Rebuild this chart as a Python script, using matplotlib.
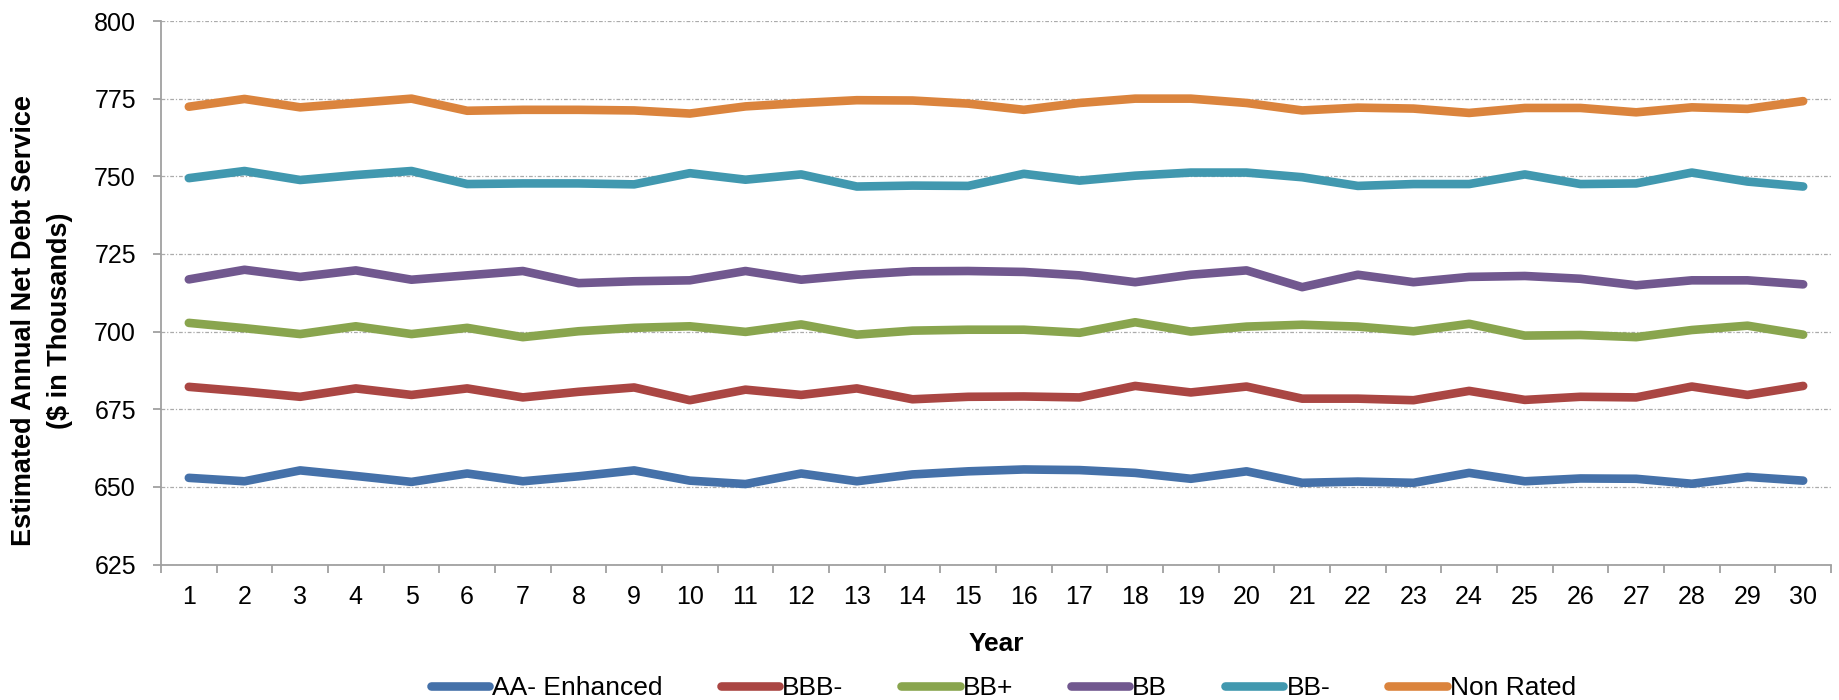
import matplotlib
matplotlib.use("Agg")
import matplotlib.pyplot as plt
from matplotlib.ticker import FixedLocator, NullFormatter

plt.rcParams['font.family'] = ['Liberation Sans', 'DejaVu Sans']

years = list(range(1, 31))
series_names = ["AA- Enhanced", "BBB-", "BB+", "BB", "BB-", "Non Rated"]
colors = ["#4571A9", "#AA4643", "#89A54E", "#71588F", "#4198AF", "#DB843D"]

aa_enhanced = [652.9, 651.8, 655.3, 653.5, 651.6, 654.3, 651.8, 653.4, 655.3, 652.0,
               650.9, 654.3, 651.8, 654.0, 655.0, 655.6, 655.4, 654.5, 652.6, 655.0,
               651.3, 651.7, 651.3, 654.5, 651.8, 652.7, 652.6, 651.0, 653.2, 652.0]
bbb_minus = [682.2, 680.7, 679.0, 681.7, 679.6, 681.7, 678.8, 680.6, 682.0, 677.9,
             681.3, 679.6, 681.7, 678.2, 679.0, 679.1, 678.8, 682.5, 680.4, 682.3,
             678.4, 678.4, 677.9, 680.9, 678.0, 679.0, 678.8, 682.3, 679.6, 682.5]
bb_plus = [702.8, 701.1, 699.2, 701.7, 699.2, 701.2, 698.2, 700.1, 701.2, 701.7,
           699.9, 702.3, 699.0, 700.3, 700.6, 700.6, 699.6, 703.0, 700.0, 701.6,
           702.2, 701.6, 700.1, 702.5, 698.7, 698.9, 698.2, 700.5, 701.9, 699.0]
bb = [716.8, 719.9, 717.6, 719.7, 716.7, 718.1, 719.5, 715.6, 716.2, 716.5,
      719.5, 716.7, 718.3, 719.4, 719.5, 719.2, 718.1, 715.9, 718.3, 719.7,
      714.3, 718.3, 715.9, 717.6, 717.9, 717.0, 714.9, 716.5, 716.5, 715.2]
bb_minus = [749.4, 751.7, 748.8, 750.4, 751.7, 747.5, 747.7, 747.7, 747.4, 751.0,
            748.9, 750.6, 746.7, 747.0, 746.9, 750.8, 748.6, 750.2, 751.2, 751.2,
            749.7, 746.9, 747.5, 747.5, 750.6, 747.5, 747.7, 751.2, 748.3, 746.7]
non_rated = [772.4, 774.9, 772.2, 773.6, 775.0, 771.1, 771.4, 771.4, 771.2, 770.2,
             772.5, 773.6, 774.5, 774.4, 773.4, 771.4, 773.6, 775.0, 775.0, 773.6,
             771.2, 772.1, 771.8, 770.4, 772.0, 772.0, 770.6, 772.2, 771.7, 774.2]

all_series = [aa_enhanced, bbb_minus, bb_plus, bb, bb_minus, non_rated]
y_ticks = [625, 650, 675, 700, 725, 750, 775, 800]

fig = plt.figure(figsize=(18.4, 7.0), dpi=100)
ax = fig.add_axes([161 / 1840, 1 - 564.5 / 700, (1831 - 161) / 1840, (564.5 - 21) / 700])

for vals, name, c in zip(all_series, series_names, colors):
    ax.plot(years, vals, color=c, lw=6.2, label=name,
            solid_capstyle='round', solid_joinstyle='round')

ax.set_xlim(0.5, 30.5)
ax.set_ylim(625, 800)
ax.set_yticks(y_ticks)
ax.set_xticks(years)
ax.xaxis.set_minor_locator(FixedLocator([x + 0.5 for x in range(0, 31)]))
ax.xaxis.set_minor_formatter(NullFormatter())

spine_c = "#A0A0A0"
for s in ["top", "right"]:
    ax.spines[s].set_visible(False)
for s in ["left", "bottom"]:
    ax.spines[s].set_color(spine_c)
    ax.spines[s].set_linewidth(1.3)

ax.tick_params(axis='y', which='major', direction='out', length=6, width=1.3,
               color=spine_c, labelsize=18, pad=12, labelcolor='black')
ax.tick_params(axis='x', which='major', length=0, labelsize=18, pad=15, labelcolor='black')
ax.tick_params(axis='x', which='minor', direction='out', length=6, width=1.3, color=spine_c)

ax.yaxis.grid(True, color="#ABABAB", linestyle=(0, (3, 1.5, 1, 1.5)), linewidth=0.9)
ax.set_axisbelow(True)

ax.set_xlabel("Year", fontsize=19, fontweight='bold', labelpad=16)
fig.text(42 / 1840, 1 - 321 / 700, "Estimated Annual Net Debt Service\n($ in Thousands)",
         rotation=90, ha='center', va='center', fontsize=19.5, fontweight='bold',
         multialignment='center', linespacing=1.5)

leg = ax.legend(loc='center', bbox_to_anchor=(1003.5 / 1840, 1 - 688 / 700),
                bbox_transform=fig.transFigure, ncol=6, frameon=False,
                fontsize=19, handlelength=2.2, handletextpad=0.12, columnspacing=2.2)

fig.savefig("out.png", dpi=100, facecolor='white')
